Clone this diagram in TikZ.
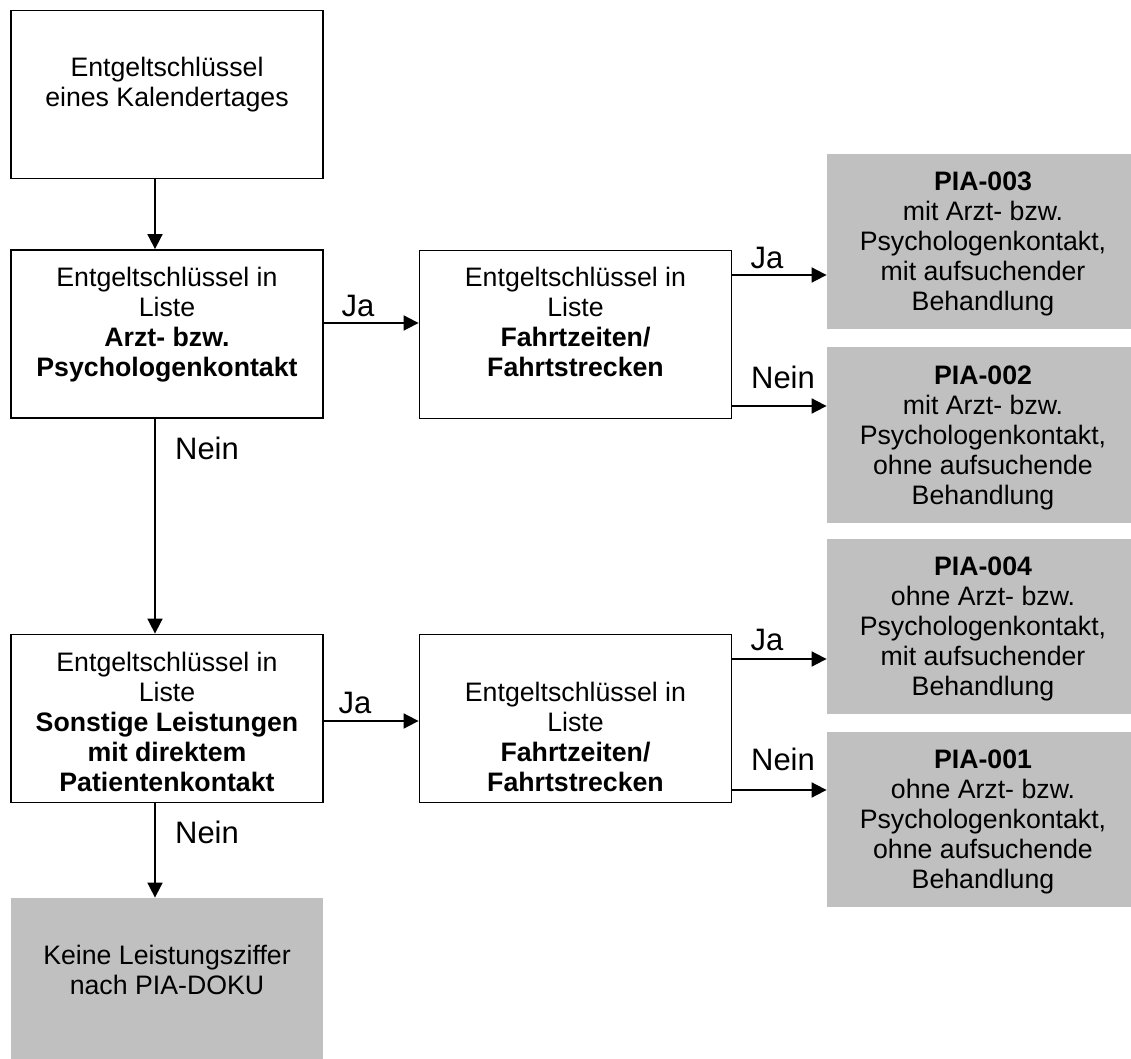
\documentclass[tikz,border=0pt]{standalone}
\usepackage{fontspec}
\setmainfont{Liberation Sans}
\usetikzlibrary{arrows.meta}
\definecolor{piagray}{RGB}{192,192,192}
\newcommand{\boxtxt}[2]{\parbox[c][#1][t]{156pt}{\centering\vspace*{7.75pt}\strut #2}}

\begin{document}
\begin{tikzpicture}[x=0.5pt, y=-0.5pt,
	every node/.style={inner sep=0pt, font=\fontsize{13.35}{15}\selectfont},
	whitebox/.style={draw=black, line width=0.9pt, fill=white},
	greybox/.style={fill=piagray},
	lbl/.style={font=\fontsize{15.5}{18}\selectfont},
	conn/.style={-{Triangle[length=7.5pt,width=7.5pt]}, line width=0.9pt}]
			\useasboundingbox (0,0) rectangle (1131,1059);
			
			\node[whitebox] (start) at (167,94.5){\boxtxt{84pt}{\strut\\Entgeltschlüssel\\eines Kalendertages}};
			\node[whitebox] (arzt) at (167,334){\boxtxt{84pt}{Entgeltschlüssel in\\Liste\\\textbf{Arzt- bzw.}\\\textbf{Psychologenkontakt}}};
			\node[whitebox] (fahrt1) at (575.5,334.5){\boxtxt{84pt}{Entgeltschlüssel in\\Liste\\\textbf{Fahrtzeiten/}\\\textbf{Fahrtstrecken}}};
			\node[whitebox] (sonst) at (167,718.5){\boxtxt{84pt}{Entgeltschlüssel in\\Liste\\\textbf{Sonstige Leistungen}\\\textbf{mit direktem}\\\textbf{Patientenkontakt}}};
			\node[whitebox] (fahrt2) at (575.5,718.5){\boxtxt{84pt}{\strut\\Entgeltschlüssel in\\Liste\\\textbf{Fahrtzeiten/}\\\textbf{Fahrtstrecken}}};
			\node[greybox] (keine) at (167,985.5){\boxtxt{87.5pt}{\strut\\Keine Leistungsziffer\\nach PIA-DOKU}};
			
			\node[greybox] (pia3) at (983,241.5){\boxtxt{87.5pt}{\textbf{PIA-003}\\mit Arzt- bzw.\\Psychologenkontakt,\\mit aufsuchender\\Behandlung}};
			\node[greybox] (pia2) at (983,435){\boxtxt{87.5pt}{\textbf{PIA-002}\\mit Arzt- bzw.\\Psychologenkontakt,\\ohne aufsuchende\\Behandlung}};
			\node[greybox] (pia4) at (983,626.5){\boxtxt{87.5pt}{\textbf{PIA-004}\\ohne Arzt- bzw.\\Psychologenkontakt,\\mit aufsuchender\\Behandlung}};
			\node[greybox] (pia1) at (983,819.5){\boxtxt{87.5pt}{\textbf{PIA-001}\\ohne Arzt- bzw.\\Psychologenkontakt,\\ohne aufsuchende\\Behandlung}};
			
			\node[lbl] (ja1) at (358,306){Ja};
			\node[lbl] (nein1) at (207,448){Nein};
			\node[lbl] (ja2) at (767,258){Ja};
			\node[lbl] (nein2) at (783,377){Nein};
			\node[lbl] (ja3) at (355,703){Ja};
			\node[lbl] (nein3) at (207,832){Nein};
			\node[lbl] (ja4) at (767,640){Ja};
			\node[lbl] (nein4) at (783,759){Nein};
			
			\coordinate (spine) at (155,0);
			\draw[conn] (start.south -| spine) -- (arzt.north -| spine);
			\draw[conn] (arzt.south -| spine) -- (sonst.north -| spine);
			\draw[conn] (sonst.south -| spine) -- (keine.north -| spine);
			\draw[conn] ([yshift=5.5pt]arzt.east) -- ([yshift=5.5pt]arzt.east -| fahrt1.west);
			\draw[conn] ([yshift=-1.25pt]sonst.east) -- ([yshift=-1.25pt]sonst.east -| fahrt2.west);
			\draw[conn] ([yshift=29.75pt]fahrt1.east) -- ([yshift=29.75pt]fahrt1.east -| pia3.west);
			\draw[conn] ([yshift=-35.75pt]fahrt1.east) -- ([yshift=-35.75pt]fahrt1.east -| pia2.west);
			\draw[conn] ([yshift=29.75pt]fahrt2.east) -- ([yshift=29.75pt]fahrt2.east -| pia4.west);
			\draw[conn] ([yshift=-35.75pt]fahrt2.east) -- ([yshift=-35.75pt]fahrt2.east -| pia1.west);
			\end{tikzpicture}
\end{document}
